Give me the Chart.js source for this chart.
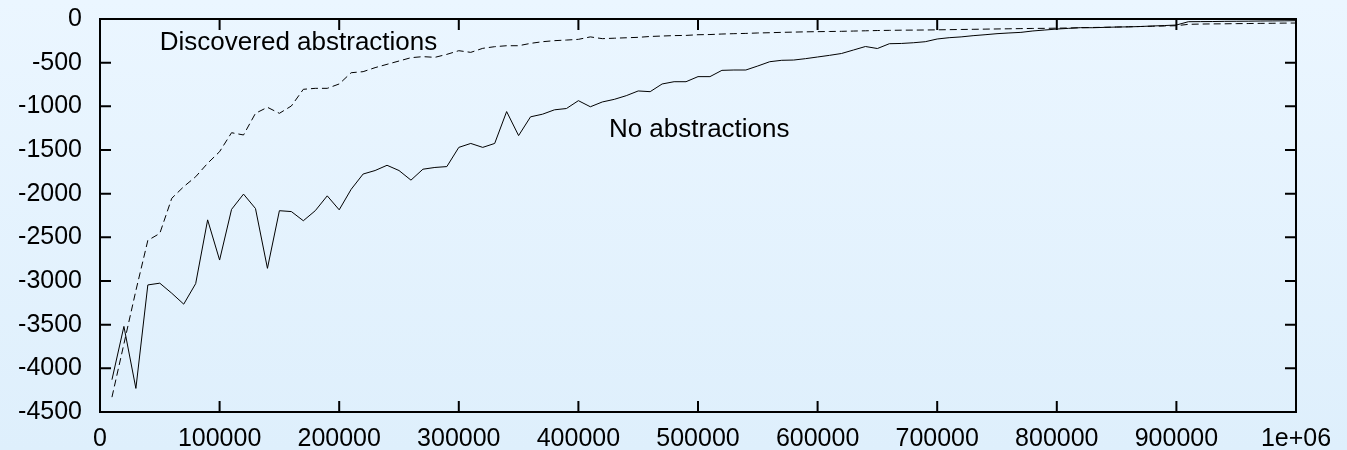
<!DOCTYPE html>
<html>
<head>
<meta charset="utf-8">
<title>Abstractions reward curves</title>
<script src="https://cdn.jsdelivr.net/npm/chart.js@4.4.1/dist/chart.umd.min.js"></script>
<style>
  html, body { margin: 0; padding: 0; }
  body { width: 1347px; height: 450px; background: linear-gradient(to bottom, #ebf6ff, #deeffc); }
  #wrap { position: relative; width: 1347px; height: 450px; }
</style>
</head>
<body>
<div id="wrap"><canvas id="rewardChart"></canvas></div>
<script>
// training steps (x)
const steps = [
  10000, 20000, 30000, 40000, 50000, 60000, 70000, 80000, 90000, 100000,
  110000, 120000, 130000, 140000, 150000, 160000, 170000, 180000, 190000, 200000,
  210000, 220000, 230000, 240000, 250000, 260000, 270000, 280000, 290000, 300000,
  310000, 320000, 330000, 340000, 350000, 360000, 370000, 380000, 390000, 400000,
  410000, 420000, 430000, 440000, 450000, 460000, 470000, 480000, 490000, 500000,
  510000, 520000, 530000, 540000, 550000, 560000, 570000, 580000, 590000, 600000,
  610000, 620000, 630000, 640000, 650000, 660000, 670000, 680000, 690000, 700000,
  710000, 720000, 730000, 740000, 750000, 760000, 770000, 780000, 790000, 800000,
  810000, 820000, 830000, 840000, 850000, 860000, 870000, 880000, 890000, 900000,
  910000, 920000, 930000, 940000, 950000, 960000, 970000, 980000, 990000, 1000000
];

// solid curve
const noAbstractions = [
  -4130, -3520, -4230, -3045, -3025, -3140, -3265, -3030, -2300, -2760,
  -2180, -2005, -2170, -2855, -2195, -2205, -2310, -2195, -2025, -2185,
  -1950, -1775, -1735, -1675, -1735, -1845, -1720, -1700, -1690, -1470,
  -1425, -1470, -1425, -1060, -1335, -1120, -1090, -1040, -1025, -935,
  -1005, -950, -920, -878, -824, -832, -744, -718, -718, -660,
  -660, -588, -584, -584, -538, -489, -473, -470, -454, -435,
  -416, -395, -355, -315, -338, -283, -280, -272, -260, -229,
  -214, -205, -191, -180, -168, -160, -153, -137, -126, -115,
  -107, -99, -100, -96, -92, -90, -86, -80, -75, -69,
  -31, -30, -29, -27, -26, -25, -23, -22, -21, -19
];

// dashed curve
const discovered = [
  -4330, -3720, -3110, -2535, -2455, -2053, -1920, -1806, -1652, -1519,
  -1302, -1328, -1080, -1011, -1080, -996, -805, -794, -794, -744,
  -615, -603, -557, -519, -481, -443, -431, -439, -405, -363,
  -382, -336, -317, -306, -306, -279, -260, -248, -241, -233,
  -205, -225, -220, -215, -210, -200, -195, -190, -188, -180,
  -178, -172, -168, -165, -160, -157, -153, -150, -147, -145,
  -143, -141, -138, -135, -132, -130, -128, -127, -126, -124,
  -122, -120, -118, -116, -114, -112, -110, -108, -107, -105,
  -103, -100, -97, -95, -92, -89, -86, -83, -80, -77,
  -61, -58, -56, -55, -53, -52, -50, -49, -47, -46
];

const xTickLabels = ['0', '100000', '200000', '300000', '400000', '500000',
  '600000', '700000', '800000', '900000', '1e+06'];
const yTickLabels = ['-4500', '-4000', '-3500', '-3000', '-2500', '-2000',
  '-1500', '-1000', '-500', '0'];
const curveLabels = ['Discovered abstractions', 'No abstractions'];

const FONT = '"Liberation Sans", Arial, sans-serif';

// gnuplot style frame: box, inward ticks on all four sides, and curve labels
const framePlugin = {
  id: 'frame',
  afterDatasetsDraw(chart) {
    const { ctx, chartArea: a, scales: { x, y } } = chart;
    const tl = 11;
    ctx.save();
    ctx.strokeStyle = '#000';
    ctx.lineWidth = 2;
    ctx.strokeRect(a.left, a.top, a.right - a.left, a.bottom - a.top);
    ctx.beginPath();
    x.ticks.forEach(t => {
      const px = x.getPixelForValue(t.value);
      ctx.moveTo(px, a.bottom); ctx.lineTo(px, a.bottom - tl);
      ctx.moveTo(px, a.top); ctx.lineTo(px, a.top + tl);
    });
    y.ticks.forEach(t => {
      const py = y.getPixelForValue(t.value);
      ctx.moveTo(a.left, py); ctx.lineTo(a.left + tl, py);
      ctx.moveTo(a.right, py); ctx.lineTo(a.right - tl, py);
    });
    ctx.stroke();

    ctx.fillStyle = '#000';
    ctx.font = '26px ' + FONT;
    ctx.textAlign = 'left';
    ctx.textBaseline = 'alphabetic';
    ctx.fillText(curveLabels[0], x.getPixelForValue(50000), y.getPixelForValue(-352));
    ctx.fillText(curveLabels[1], x.getPixelForValue(425500), y.getPixelForValue(-1352));
    ctx.restore();
  }
};

new Chart(document.getElementById('rewardChart'), {
  type: 'line',
  data: {
    datasets: [{
      label: curveLabels[0],
      data: steps.map((s, i) => ({ x: s, y: discovered[i] })),
      borderColor: '#000',
      borderWidth: 1,
      borderDash: [7, 4],
      pointRadius: 0,
      tension: 0,
      fill: false
    }, {
      label: curveLabels[1],
      data: steps.map((s, i) => ({ x: s, y: noAbstractions[i] })),
      borderColor: '#000',
      borderWidth: 1,
      pointRadius: 0,
      tension: 0,
      fill: false
    }]
  },
  options: {
    responsive: true,
    maintainAspectRatio: false,
    animation: false,
    devicePixelRatio: 1,
    layout: { padding: { top: 19, right: 51, bottom: 0, left: 0 } },
    plugins: {
      legend: { display: false },
      tooltip: { enabled: false }
    },
    scales: {
      x: {
        type: 'linear',
        min: 0,
        max: 1000000,
        grid: { display: false, drawTicks: false },
        border: { display: false },
        afterFit(scale) {
          scale.height = 38;
          scale.paddingLeft = 0;
          scale.paddingRight = 0;
        },
        ticks: {
          stepSize: 100000,
          autoSkip: false,
          maxRotation: 0,
          padding: 12,
          color: '#000',
          font: { family: FONT, size: 25 },
          callback: (v, i) => xTickLabels[i]
        }
      },
      y: {
        type: 'linear',
        min: -4500,
        max: 0,
        grid: { display: false, drawTicks: false },
        border: { display: false },
        afterFit(scale) {
          scale.width = 100;
          scale.paddingTop = 0;
          scale.paddingBottom = 0;
        },
        ticks: {
          stepSize: 500,
          autoSkip: false,
          padding: 18,
          color: '#000',
          font: { family: FONT, size: 25 },
          callback: (v, i) => yTickLabels[i]
        }
      }
    }
  },
  plugins: [framePlugin]
});
</script>
</body>
</html>
